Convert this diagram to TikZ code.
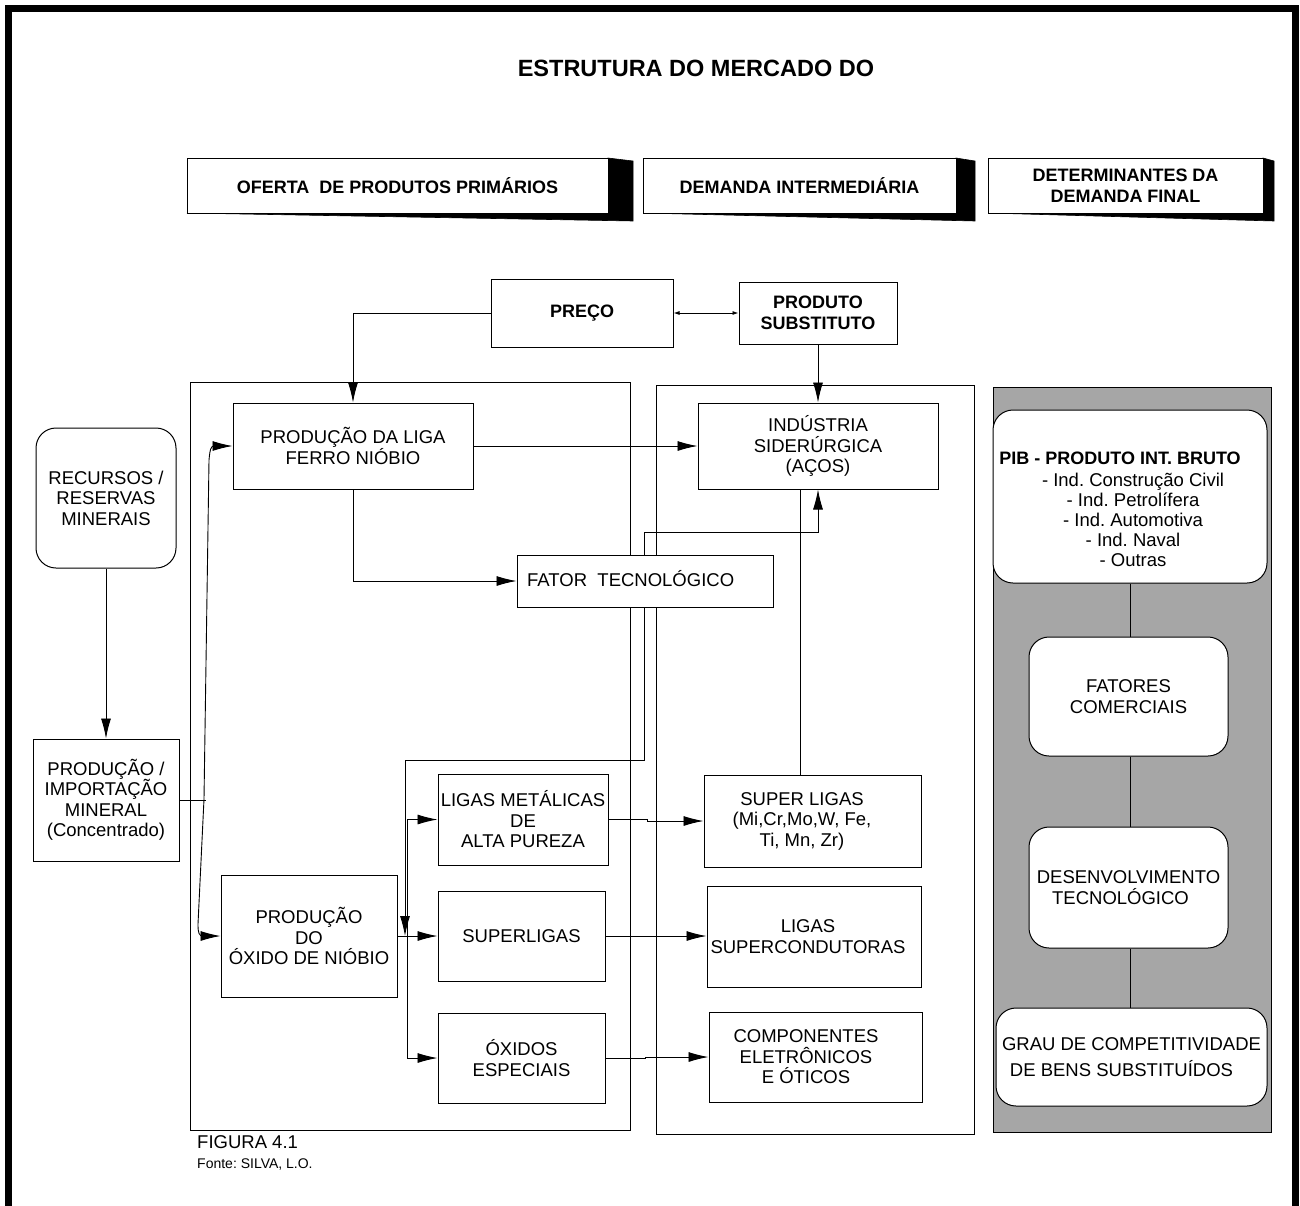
\documentclass[tikz,border=0pt]{standalone}
\usepackage{fontspec}
\setmainfont{Liberation Sans}
\usetikzlibrary{arrows.meta,calc}
\frenchspacing
\newcommand{\regf}{\fontsize{18.5}{20.5}\selectfont}
\newcommand{\boldf}{\fontsize{18}{21.5}\selectfont\bfseries}
\tikzset{
  box/.style={draw,line width=1pt,inner sep=0pt,align=center,font=\regf,fill=white},
  rbox/.style={box,rounded corners=20pt},
  cont/.style={draw,line width=1pt,inner sep=0pt},
  txt/.style={inner sep=0pt,align=center,font=\regf},
  btxt/.style={inner sep=0pt,align=center,font=\boldf},
  conn/.style={line width=0.9pt},
  arr/.style={conn,-{Latex[length=20pt,width=10pt]}},
  sarr/.style={conn,{Latex[length=6pt,width=4pt]}-{Latex[length=6pt,width=4pt]}},
  shade3d/.style={fill=black,draw=black,line width=0.6pt}
}
\begin{document}
\begin{tikzpicture}[x=1pt,y=-1pt]
\useasboundingbox (0,0) rectangle (1300,1205);
% outer frame (open at the bottom)
\draw[line width=7pt] (8.5,1210) -- (8.5,8.5) -- (1295.5,8.5) -- (1295.5,1210);

% title
\node[inner sep=0pt,font=\fontsize{23.5}{27}\selectfont\bfseries] (title) at (696,68) {ESTRUTURA DO MERCADO DO};

% 3D header boxes
\fill[shade3d] (608,158) -- (633,161) -- (633,221) -- (187,213) -- (608,213) -- cycle;
\node[box,font=\boldf,minimum width=421pt,minimum height=55pt] (oferta) at (397.5,185.5) {OFERTA \ DE PRODUTOS PRIMÁRIOS};
\fill[shade3d] (956,158) -- (975,161) -- (975,221) -- (643,213) -- (956,213) -- cycle;
\node[box,font=\boldf,minimum width=313pt,minimum height=55pt] (demanda) at (799.5,185.5) {DEMANDA INTERMEDIÁRIA};
\fill[shade3d] (1263,158) -- (1274,161) -- (1274,221) -- (988,213) -- (1263,213) -- cycle;
\node[box,font=\boldf,minimum width=275pt,minimum height=55pt] (determ) at (1125.5,185.5) {DETERMINANTES DA\\DEMANDA FINAL};

% containers
\node[cont,minimum width=440pt,minimum height=748pt] (lcont) at (410,756) {};
\node[cont,minimum width=318pt,minimum height=749pt] (mcont) at (815,759.5) {};
\node[draw,line width=1pt,fill={rgb,255:red,166;green,166;blue,166},inner sep=0pt,minimum width=278pt,minimum height=745pt] (panel) at (1132,759.5) {};

% top boxes
\node[box,font=\boldf,minimum width=182pt,minimum height=68pt] (preco) at (582,313) {PREÇO};
\node[box,font=\boldf,minimum width=158pt,minimum height=62pt] (produto) at (818,313) {PRODUTO\\SUBSTITUTO};

% left column
\node[rbox,minimum width=140pt,minimum height=140pt] (recursos) at (106,498) {RECURSOS /\\RESERVAS\\MINERAIS};
\node[box,minimum width=146pt,minimum height=122pt] (prodmin) at (106,800) {PRODUÇÃO /\\IMPORTAÇÃO\\MINERAL\\(Concentrado)};

% oferta column
\node[box,minimum width=240pt,minimum height=86pt] (liga) at (353,446) {PRODUÇÃO DA LIGA\\FERRO NIÓBIO};
\node[box,minimum width=176pt,minimum height=122pt] (oxido) at (309,936) {PRODUÇÃO\\DO\\ÓXIDO DE NIÓBIO};
\node[box,minimum width=170pt,minimum height=91pt] (ligasmet) at (523,819.5) {LIGAS METÁLICAS\\DE\\ALTA PUREZA};
\node[box,minimum width=167pt,minimum height=90pt] (superligas) at (521.5,936) {SUPERLIGAS};
\node[box,minimum width=167pt,minimum height=90pt] (oxidosesp) at (521.5,1058) {ÓXIDOS\\ESPECIAIS};

% demanda column
\node[box,minimum width=240pt,minimum height=86pt] (ind) at (818,446) {INDÚSTRIA\\SIDERÚRGICA\\(AÇOS)};
\node[box,minimum width=217pt,minimum height=92pt] (superl) at (812.5,821) {};
\node[txt] (superltxt) at (802,821) {SUPER LIGAS\\(Mi,Cr,Mo,W, Fe,\\Ti, Mn, Zr)};
\node[box,minimum width=214pt,minimum height=101pt] (supercond) at (814,936.5) {};
\node[txt] (supercondtxt) at (808,936.5) {LIGAS\\SUPERCONDUTORAS};
\node[box,minimum width=213pt,minimum height=90pt] (comp) at (815.5,1057) {};
\node[txt] (comptxt) at (806,1057) {COMPONENTES\\ELETRÔNICOS\\E ÓTICOS};

% connectors (drawn before fator so its box covers the container edges)
\draw[sarr] (preco.east) -- (produto.west);
\draw[arr] (preco.west) -| (liga.north);
\draw[arr] (produto.south) -- (ind.north);
\draw[arr] (liga.east) -- (ind.west);

\node[box,minimum width=256pt,minimum height=52pt] (fator) at (645,581) {};
\node[txt,anchor=west] (fatortxt) at (527,579) {FATOR \ TECNOLÓGICO};

\draw[arr] (liga.south) |- (fator.west);
\draw[arr] ([xshift=-1pt]fator.north) -- ++(0,-22) -| (ind.south);
\coordinate (j1) at (405,936);
\draw[arr] ([xshift=-1pt]fator.south) -- ++(0,153) -| (j1);
\draw[conn] ([xshift=-12.5pt]superl.north) -- ([xshift=-18pt]ind.south);

% left curved supply line
\coordinate (j2) at (204,799);
\draw[conn] (prodmin.east) -- ++(26,0);
\draw[arr] (j2) -- (209,460) .. controls (210,449) and (211,446) .. (214,446) -- (liga.west);
\draw[arr] (j2) -- (198,924) .. controls (198,933) and (199,936) .. (203,936) -- (oxido.west);
\draw[arr] (recursos.south) -- (prodmin.north);

% distribution bus from oxido
\coordinate (bus) at (407,936);
\draw[conn] (oxido.east) -- (bus);
\draw[arr] (bus) |- (ligasmet.west);
\draw[arr] (bus) -- (superligas.west);
\draw[arr] (bus) |- (oxidosesp.west);

% product to demand arrows
\draw[arr] (ligasmet.east) -- ++(39,0) |- (superl.west);
\draw[arr] (superligas.east) -- (supercond.west |- superligas.east);
\draw[arr] (oxidosesp.east) -- ++(40,0) |- (comp.west);

% right panel
\node[rbox,minimum width=274pt,minimum height=173pt] (pib) at (1130,496.5) {};
\node[btxt] (pibtitle) at (1120,458) {PIB - PRODUTO INT. BRUTO};
\node[txt,font=\fontsize{18.5}{20}\selectfont] (piblist) at (1133,520) {- Ind. Construção Civil\\- Ind. Petrolífera\\- Ind. Automotiva\\- Ind. Naval\\- Outras};
\node[rbox,minimum width=199pt,minimum height=119pt] (fatores) at (1128.5,696.5) {FATORES\\COMERCIAIS};
\node[rbox,minimum width=199pt,minimum height=121pt] (desenv) at (1128.5,887.5) {DESENVOLVIMENTO\\\hspace*{-16pt}TECNOLÓGICO};
\node[rbox,minimum width=271pt,minimum height=98pt] (grau) at (1131.5,1057) {GRAU DE COMPETITIVIDADE\\[6pt]\hspace*{-20pt}DE BENS SUBSTITUÍDOS};
\draw[conn] (pib.south) -- (pib.south |- fatores.north);
\draw[conn] ([xshift=1.5pt]fatores.south) -- ([xshift=1.5pt]fatores.south |- desenv.north);
\draw[conn] ([xshift=1.5pt]desenv.south) -- ([xshift=1.5pt]desenv.south |- grau.north);

% captions
\node[inner sep=0pt,anchor=west,font=\fontsize{18.5}{22}\selectfont] (fig) at (197,1142) {FIGURA 4.1};
\node[inner sep=0pt,anchor=west,font=\fontsize{14}{16}\selectfont] (fonte) at (197,1164) {Fonte: SILVA, L.O.};
\end{tikzpicture}
\end{document}
